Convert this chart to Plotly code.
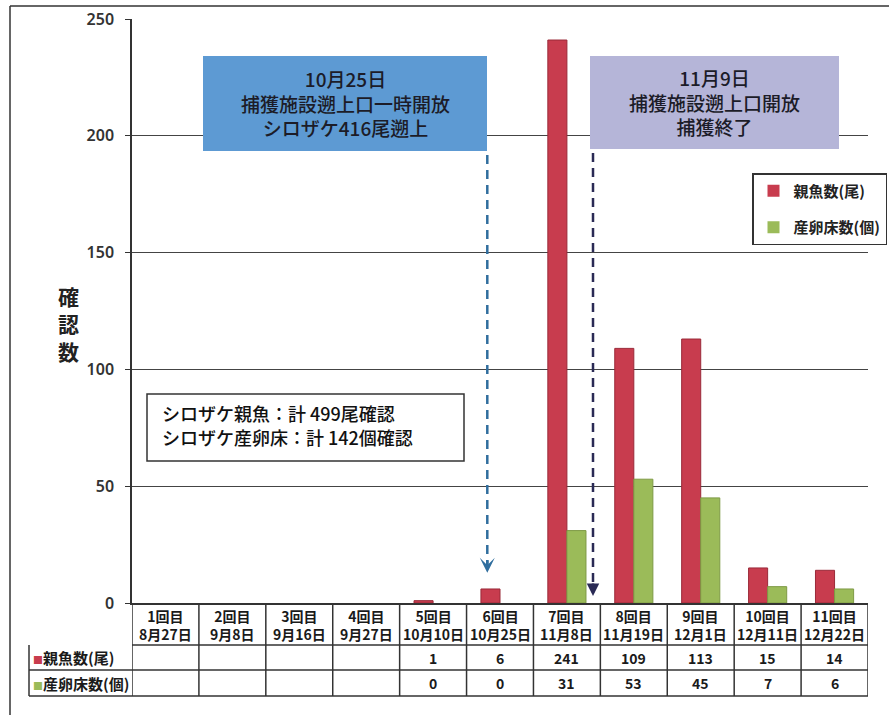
import plotly.graph_objects as go

# Survey rounds and dates
rounds = ["1回目", "2回目", "3回目", "4回目", "5回目", "6回目",
          "7回目", "8回目", "9回目", "10回目", "11回目"]
dates = ["8月27日", "9月8日", "9月16日", "9月27日", "10月10日", "10月25日",
         "11月8日", "11月19日", "12月1日", "12月11日", "12月22日"]

# Counts per round (None = no record)
parent_fish = [None, None, None, None, 1, 6, 241, 109, 113, 15, 14]
redds = [None, None, None, None, 0, 0, 31, 53, 45, 7, 6]

series_names = ["親魚数(尾)", "産卵床数(個)"]
y_ticks = [0, 50, 100, 150, 200, 250]

W, H = 889, 715
RED, RED_EDGE = "#C83C4E", "#9A2A39"
GREEN, GREEN_EDGE = "#9BBB59", "#7E9A45"
FONT = "Noto Sans CJK JP"


def px(x):
    return x / W


def py(y):
    return 1 - y / H


def edge_widths(values):
    # no outline on empty / zero bars
    return [1 if v else 0 for v in values]


xpos = list(range(len(rounds)))

fig = go.Figure()
fig.add_trace(go.Bar(
    x=xpos, y=parent_fish, name=series_names[0], legendgroup="a",
    marker=dict(color=RED, line=dict(color=RED_EDGE, width=edge_widths(parent_fish))),
))
fig.add_trace(go.Bar(
    x=xpos, y=redds, name=series_names[1], legendgroup="b",
    marker=dict(color=GREEN, line=dict(color=GREEN_EDGE, width=edge_widths(redds))),
))

PLOT_L, PLOT_R, PLOT_T, PLOT_B = 132, 868, 19, 603

fig.update_layout(
    width=W, height=H,
    margin=dict(l=0, r=0, t=0, b=0, autoexpand=False),
    paper_bgcolor="white", plot_bgcolor="white",
    barmode="group", bargap=0.43, bargroupgap=0,
    font=dict(family=FONT, color="#222"),
    xaxis=dict(
        domain=[px(PLOT_L), px(PLOT_R)], range=[-0.5, len(rounds) - 0.5],
        showticklabels=False, showgrid=False, zeroline=False,
        showline=True, linecolor="#333", linewidth=1.5, ticks="",
        fixedrange=True,
    ),
    yaxis=dict(
        domain=[py(PLOT_B), py(PLOT_T)], range=[0, 250],
        tickvals=y_ticks, showgrid=True, gridcolor="#444", gridwidth=1,
        zeroline=False, showline=True, linecolor="#333", linewidth=1.5,
        ticks="outside", ticklen=5, tickcolor="#333", ticklabelstandoff=8,
        tickfont=dict(family="Noto Sans", size=16, color="#333", weight=600),
    ),
    legend=dict(
        x=px(752), y=py(173), xanchor="left", yanchor="top",
        bgcolor="white", bordercolor="#333", borderwidth=1.5,
        font=dict(family=FONT, size=15, color="#222", weight=600),
        traceorder="grouped", tracegroupgap=14,
        itemwidth=30,
    ),
)

shapes = []
annotations = []

# Outer frame
shapes.append(dict(type="line", xref="paper", yref="paper",
                   x0=px(10), x1=px(10), y0=py(6), y1=py(715),
                   line=dict(color="#333", width=1.5)))
shapes.append(dict(type="line", xref="paper", yref="paper",
                   x0=px(10), x1=px(889), y0=py(6), y1=py(6),
                   line=dict(color="#333", width=1.5)))

# Y axis title (vertical stacked characters)
annotations.append(dict(
    xref="paper", yref="paper", x=px(68), y=py(323),
    xanchor="center", yanchor="middle",
    text="確<br>認<br>数", showarrow=False,
    font=dict(size=21, color="#222", weight=700), align="center",
))


# Event boxes
def event_box(x0, x1, y0, y1, color, lines):
    shapes.append(dict(type="rect", xref="paper", yref="paper",
                       x0=px(x0), x1=px(x1), y0=py(y1), y1=py(y0),
                       fillcolor=color, line=dict(color=color, width=0),
                       layer="above"))
    annotations.append(dict(
        xref="paper", yref="paper", x=px((x0 + x1) / 2), y=py((y0 + y1) / 2),
        xanchor="center", yanchor="middle",
        text="<br>".join(lines), showarrow=False, align="center",
        font=dict(size=19, color="#1c1c28", weight=500),
    ))


event_box(203, 487, 56, 151, "#5D9AD3",
          ["10月25日", "捕獲施設遡上口一時開放", "シロザケ416尾遡上"])
event_box(590, 839, 56, 149, "#B5B5D8",
          ["11月9日", "捕獲施設遡上口開放", "捕獲終了"])


# Dashed arrows (x in category units, tip in data units)
def dashed_arrow(xc, y_top_px, y_tip_val, color, filled):
    tip_px = PLOT_B - y_tip_val * (PLOT_B - PLOT_T) / 250
    shapes.append(dict(type="line", xref="x", yref="paper",
                       x0=xc, x1=xc, y0=py(y_top_px + 4), y1=py(tip_px - 6),
                       line=dict(color=color, width=2.5, dash="9px,6px")))
    annotations.append(dict(
        xref="x", yref="paper", x=xc, y=py(tip_px), ax=0, ay=-14,
        axref="pixel", ayref="pixel", text="", showarrow=True,
        arrowhead=2 if filled else 3, arrowsize=1.0, arrowwidth=2.5,
        arrowcolor=color,
    ))


dashed_arrow(4.81, 151, 13, "#306E9E", False)
dashed_arrow(6.39, 149, 3, "#2A2A55", True)

# Summary box
shapes.append(dict(type="rect", xref="paper", yref="paper",
                   x0=px(147), x1=px(464), y0=py(461), y1=py(394),
                   fillcolor="white", line=dict(color="#333", width=1.5)))
total_fish = sum(v for v in parent_fish if v is not None)
total_redds = sum(v for v in redds if v is not None)
summary_lines = [f"シロザケ親魚：計 {total_fish}尾確認",
                 f"シロザケ産卵床：計 {total_redds}個確認"]
for line_y, line in zip((413, 437), summary_lines):
    annotations.append(dict(
        xref="paper", yref="paper", x=px(160), y=py(line_y),
        xanchor="left", yanchor="middle",
        text=line, showarrow=False, align="left",
        font=dict(size=18, color="#111", weight=500),
    ))

# Data table under the axis
ROW1_B, ROW2_B, ROW3_B = 645, 670, 696
TABLE_L = 29
grid = dict(color="#333", width=1.5)
for yy in (ROW1_B, ROW2_B, ROW3_B):
    x_left = PLOT_L if yy == ROW1_B else TABLE_L
    shapes.append(dict(type="line", xref="paper", yref="paper",
                       x0=px(x_left), x1=px(PLOT_R), y0=py(yy), y1=py(yy),
                       line=grid))
for k in range(len(rounds) + 1):
    shapes.append(dict(type="line", xref="x", yref="paper",
                       x0=k - 0.5, x1=k - 0.5, y0=py(PLOT_B), y1=py(ROW3_B),
                       line=grid))
shapes.append(dict(type="line", xref="paper", yref="paper",
                   x0=px(TABLE_L), x1=px(TABLE_L), y0=py(ROW1_B), y1=py(ROW3_B),
                   line=grid))

cell_font = dict(size=14, color="#1a1a1a", weight=600)
for i, (r, d) in enumerate(zip(rounds, dates)):
    annotations.append(dict(
        xref="x", yref="paper", x=i, y=py((PLOT_B + ROW1_B) / 2 + 1),
        xanchor="center", yanchor="middle",
        text=f"{r}<br>{d}", showarrow=False, align="center", font=cell_font,
    ))
    if parent_fish[i] is not None:
        annotations.append(dict(
            xref="x", yref="paper", x=i, y=py((ROW1_B + ROW2_B) / 2),
            xanchor="center", yanchor="middle",
            text=str(parent_fish[i]), showarrow=False, font=cell_font,
        ))
    if redds[i] is not None:
        annotations.append(dict(
            xref="x", yref="paper", x=i, y=py((ROW2_B + ROW3_B) / 2),
            xanchor="center", yanchor="middle",
            text=str(redds[i]), showarrow=False, font=cell_font,
        ))

for name, color, y0, y1 in ((series_names[0], RED, ROW1_B, ROW2_B),
                            (series_names[1], GREEN, ROW2_B, ROW3_B)):
    annotations.append(dict(
        xref="paper", yref="paper", x=px(31), y=py((y0 + y1) / 2),
        xanchor="left", yanchor="middle",
        text=f"<span style='color:{color};font-size:10px'>■</span>{name}",
        showarrow=False, font=dict(size=15, color="#1a1a1a", weight=600),
    ))

fig.update_layout(shapes=shapes, annotations=annotations)
fig.write_html("out.html")
